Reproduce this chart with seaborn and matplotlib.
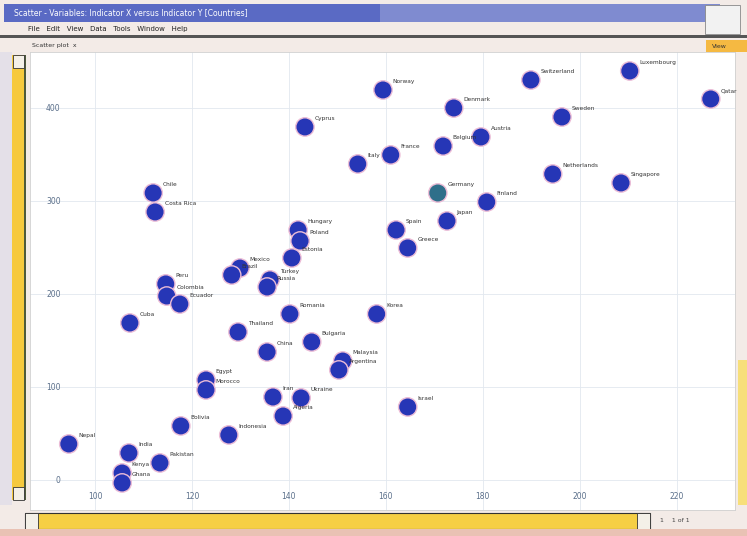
import numpy as np
import pandas as pd
import matplotlib
matplotlib.use("Agg")
import matplotlib.pyplot as plt
from matplotlib.patches import Rectangle
import seaborn as sns

# ---- data ----
x_vals = [159.4, 189.9, 210.3, 227.0, 174.0, 196.3, 143.3, 179.6, 171.8, 161.0,
          154.2, 194.4, 208.5, 170.7, 180.8, 112.0, 112.4, 172.6, 162.1, 164.5,
          141.9, 142.3, 140.6, 129.9, 128.2, 136.1, 135.5, 114.6, 114.8, 117.5,
          107.2, 140.2, 158.1, 129.5, 144.7, 135.5, 151.1, 150.3, 122.9, 122.9,
          136.7, 142.5, 138.8, 164.5, 117.7, 127.6, 94.6, 107.0, 113.4, 105.6, 105.6]
y_vals = [419.4, 430.1, 439.8, 409.7, 400.0, 390.3, 379.6, 368.8, 359.1, 349.5,
          339.8, 329.0, 319.4, 308.6, 298.9, 308.6, 288.2, 278.5, 268.8, 249.5,
          268.8, 257.0, 238.7, 227.9, 220.4, 215.1, 207.5, 210.8, 197.8, 189.2,
          168.8, 178.5, 178.5, 159.1, 148.4, 137.6, 127.9, 118.3, 107.5, 96.8,
          89.2, 88.2, 68.8, 78.5, 58.1, 48.4, 38.7, 29.0, 18.3, 7.5, -3.2]
names = ["Norway", "Switzerland", "Luxembourg", "Qatar", "Denmark", "Sweden",
         "Cyprus", "Austria", "Belgium", "France", "Italy", "Netherlands",
         "Singapore", "Germany", "Finland", "Chile", "Costa Rica", "Japan",
         "Spain", "Greece", "Hungary", "Poland", "Estonia", "Mexico", "Brazil",
         "Turkey", "Russia", "Peru", "Colombia", "Ecuador", "Cuba", "Romania",
         "Korea", "Thailand", "Bulgaria", "China", "Malaysia", "Argentina",
         "Egypt", "Morocco", "Iran", "Ukraine", "Algeria", "Israel", "Bolivia",
         "Indonesia", "Nepal", "India", "Pakistan", "Kenya", "Ghana"]
highlight = "Germany"
x_ticks = [100, 120, 140, 160, 180, 200, 220]
y_ticks = [0, 100, 200, 300, 400]

df = pd.DataFrame({"x": x_vals, "y": y_vals, "name": names})
df["hl"] = np.where(df["name"] == highlight, "hl", "n")

sns.set_style("white")
plt.rcParams["font.family"] = ["DejaVu Sans"]

W, H = 747, 536
fig = plt.figure(figsize=(W / 100, H / 100), dpi=100)
fig.patch.set_facecolor("#f3ebe7")


def rect(x0, y0, x1, y1, **kw):
    fig.patches.append(Rectangle((x0 / W, 1 - y1 / H), (x1 - x0) / W, (y1 - y0) / H,
                                 transform=fig.transFigure, figure=fig, **kw))


# window chrome
rect(4, 4, 720, 22, facecolor="#7f8bd0", edgecolor="none")
rect(4, 4, 380, 22, facecolor="#5a6ac4", edgecolor="none")
rect(705, 5, 740, 34, facecolor="#f2f2f2", edgecolor="#888888", linewidth=0.6)
rect(0, 35, W, 37.5, facecolor="#555555", edgecolor="none")
rect(706, 40, 747, 52, facecolor="#f5b942", edgecolor="none")
rect(0, 52, 12, 505, facecolor="#e4e0e8", edgecolor="none")
rect(12, 55, 25, 500, facecolor="#f6c93e", edgecolor="none")
rect(23.5, 55, 25.5, 500, facecolor="#4f5a3a", edgecolor="none")
rect(13, 55, 24, 68, facecolor="#f4f0e8", edgecolor="#333333", linewidth=0.6)
rect(13, 487, 24, 500, facecolor="#f4f0e8", edgecolor="#333333", linewidth=0.6)
rect(25, 513, 650, 529, facecolor="#f6cf44", edgecolor="#333333", linewidth=0.8)
rect(25, 513, 38, 529, facecolor="#f4f0e8", edgecolor="#333333", linewidth=0.6)
rect(637, 513, 650, 529, facecolor="#f4f0e8", edgecolor="#333333", linewidth=0.6)
rect(738, 360, 747, 505, facecolor="#f7df7a", edgecolor="none")
rect(0, 529, W, 536, facecolor="#e9c2b4", edgecolor="none")

fig.text(14 / W, 1 - 13 / H, "Scatter - Variables: Indicator X versus Indicator Y [Countries]",
         color="white", fontsize=5.5, va="center")
fig.text(28 / W, 1 - 29 / H, "File   Edit   View   Data   Tools   Window   Help",
         color="#222222", fontsize=5, va="center")
fig.text(32 / W, 1 - 45 / H, "Scatter plot  x", color="#333333", fontsize=4.5, va="center")
fig.text(712 / W, 1 - 46 / H, "View", color="#333333", fontsize=4.5, va="center")
fig.text(660 / W, 1 - 521 / H, "1    1 of 1", color="#444444", fontsize=4.5, va="center")

# plot area
ax = fig.add_axes([30 / W, (H - 510) / H, 705 / W, 458 / H])
ax.set_facecolor("white")
sns.scatterplot(data=df, x="x", y="y", hue="hl", palette={"n": "#2636b6", "hl": "#2f6f8a"},
                s=175, edgecolor="#ecbcd6", linewidth=1.0, legend=False, ax=ax, zorder=3)
for _, r in df.iterrows():
    ax.annotate(r["name"], (r["x"], r["y"]), xytext=(7, 5), textcoords="offset points",
                fontsize=4.2, color="#333333", zorder=4)

ax.set_xlim(86.6, 232.0)
ax.set_ylim(-32.3, 460.2)
ax.set_xticks(x_ticks)
ax.set_yticks(y_ticks)
ax.set_xticklabels([str(v) for v in x_ticks])
ax.set_yticklabels([str(v) for v in y_ticks])
ax.grid(True, color="#e2e8ef", linewidth=0.6)
ax.set_axisbelow(True)
ax.tick_params(axis="x", length=0, pad=-13, labelsize=5.5, labelcolor="#5a6f8a")
ax.tick_params(axis="y", length=0, pad=-22, labelsize=5.5, labelcolor="#5a6f8a")
for lab in ax.get_yticklabels():
    lab.set_horizontalalignment("right")
ax.set_xlabel("")
ax.set_ylabel("")
for s in ax.spines.values():
    s.set_color("#d0d0d0")
    s.set_linewidth(0.6)

fig.savefig("out.png", dpi=100)
